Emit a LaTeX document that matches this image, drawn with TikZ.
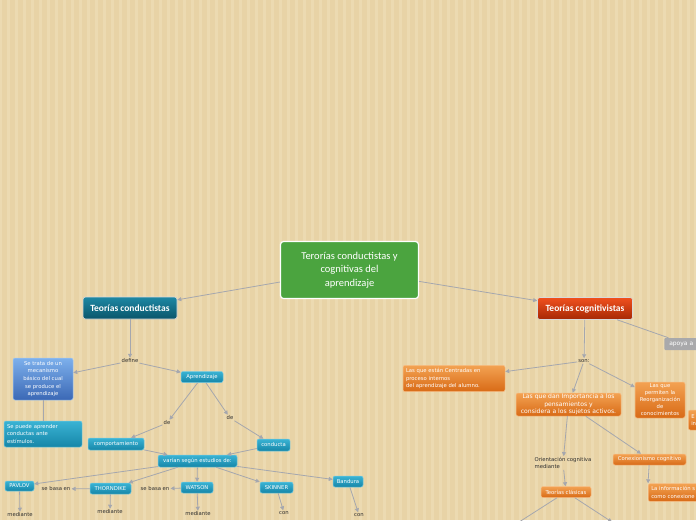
\documentclass[tikz,border=0pt]{standalone}
\usepackage{fontspec}
\setmainfont{DejaVu Sans}
\newfontfamily\titlefont{Carlito}
\usetikzlibrary{arrows.meta,positioning}
\definecolor{paper}{HTML}{E8D3A6}
\definecolor{plaid}{HTML}{F2E4C0}
\definecolor{linkgray}{HTML}{A5A7AE}
\definecolor{ink}{HTML}{2E2E2E}
\definecolor{leaf}{HTML}{4BA43F}
\definecolor{tealA}{HTML}{3AB3D4}
\definecolor{tealB}{HTML}{1686A8}
\definecolor{deepA}{HTML}{1E88A4}
\definecolor{deepB}{HTML}{0A556A}
\definecolor{blueA}{HTML}{7DB0EC}
\definecolor{blueB}{HTML}{3B68B5}
\definecolor{redA}{HTML}{F0501E}
\definecolor{redB}{HTML}{A62805}
\definecolor{orangeA}{HTML}{F3A252}
\definecolor{orangeB}{HTML}{D86A16}
\definecolor{stone}{HTML}{A9A9AB}
\tikzset{
 link/.style={draw=linkgray,line width=.8pt,-{Triangle[length=4pt,width=4pt]}},
 bare/.style={draw=linkgray,line width=.8pt},
 lbl/.style={font=\fontsize{5.3}{7}\selectfont,text=ink,inner sep=1pt},
 box/.style={rounded corners=2pt,text=white,font=\fontsize{5.3}{7.5}\selectfont,inner sep=1pt,align=center,line width=.5pt},
 tealbox/.style={box,top color=tealA,bottom color=tealB,draw=tealA!70!white},
 orangebox/.style={box,top color=orangeA,bottom color=orangeB,draw=orangeA!70!white},
 branch/.style={rounded corners=2.5pt,text=white,font=\titlefont\bfseries\fontsize{9.5}{11}\selectfont,line width=.6pt,draw=white!70!gray,minimum height=22pt}
}
\begin{document}
\begin{tikzpicture}[x=1pt,y=-1pt]
\useasboundingbox (0,0) rectangle (696,520);
\clip (0,0) rectangle (696,520);
\fill[paper] (0,0) rectangle (696,520);
\draw[plaid,opacity=.45,line width=3pt,step=8] (0,0) grid (696,520);
% centre
\node[draw=white,line width=1.2pt,fill=leaf,rounded corners=3pt,minimum width=138pt,minimum height=57pt,text=white,align=center,font=\titlefont\fontsize{10.5}{13.5}\selectfont] (root) at (349.5,270) {Terorías conductistas y\\cognitivas del\\aprendizaje};
\node[branch,top color=deepA,bottom color=deepB,minimum width=94pt] (conduct) at (130,308) {Teorías conductistas};
\node[branch,top color=redA,bottom color=redB,minimum width=95pt] (cognit) at (585,308.5) {Teorías cognitivistas};
\draw[link] (root) -- (conduct);\draw[link] (root) -- (cognit);
% conductistas
\node[lbl] (define) at (130,361) {define};
\node[box,top color=blueA,bottom color=blueB,draw=blueA!70!white,minimum width=60pt,minimum height=42pt,font=\fontsize{5.3}{7.6}\selectfont] (mech) at (43,379) {Se trata de un\\mecanismo\\básico del cual\\se produce el\\aprendizaje};
\node[tealbox,align=left,text width=72pt,minimum height=26pt,inner sep=3pt] (stimuli) at (43,434) {Se puede aprender\\conductas ante\\estímulos.};
\node[tealbox,minimum width=42pt,minimum height=11pt] (aprend) at (202,377) {Aprendizaje};
\node[lbl] (de1) at (167,423) {de};\node[lbl] (de2) at (230,418) {de};
\node[tealbox,minimum width=56pt,minimum height=12pt] (comport) at (116,444) {comportamiento};
\node[tealbox,minimum width=33pt,minimum height=12pt] (conducta) at (273.5,445) {conducta};
\node[tealbox,minimum width=79pt,minimum height=12pt] (varian) at (197.5,461) {varían según estudios de:};
\node[tealbox,minimum width=29pt,minimum height=10pt] (pavlov) at (19.5,486) {PAVLOV};
\node[tealbox,minimum width=41pt,minimum height=11pt] (thorn) at (110.5,488.5) {THORNDIKE};
\node[tealbox,minimum width=32pt,minimum height=11pt] (watson) at (197,487.5) {WATSON};
\node[tealbox,minimum width=33pt,minimum height=11pt] (skinner) at (276.5,487.5) {SKINNER};
\node[tealbox,minimum width=30pt,minimum height=11pt] (bandura) at (348,481.5) {Bandura};
\node[lbl] (basa1) at (56,489) {se basa en};\node[lbl] (basa2) at (155,489) {se basa en};
\node[lbl] (med1) at (20,515) {mediante};\node[lbl] (med2) at (110,512) {mediante};
\node[lbl] (med3) at (198,514) {mediante};
\node[lbl] (con1) at (284,513) {con};\node[lbl] (con2) at (359,515) {con};
\draw[link] (conduct) -- (define);\draw[link] (define) -- (mech);\draw[link] (define) -- (aprend);
\draw[bare] (mech) -- (stimuli);
\draw[link] (aprend) -- (de1);\draw[link] (aprend) -- (de2);
\draw[link] (de1) -- (comport);\draw[link] (de2) -- (conducta);
\draw[link] (comport) -- (varian);\draw[link] (conducta) -- (varian);
\draw[link] (varian) -- (pavlov);\draw[link] (varian) -- (thorn);\draw[link] (varian) -- (watson);
\draw[link] (varian) -- (skinner);\draw[link] (varian) -- (bandura);
\draw[link] (thorn) -- (basa1);\draw[link] (watson) -- (basa2);
\draw[link] (pavlov) -- (med1);\draw[link] (thorn) -- (med2);\draw[link] (watson) -- (med3);
\draw[link] (skinner) -- (con1);\draw[link] (bandura) -- (con2);
% cognitivistas
\node[lbl] (son) at (584,361) {son:};
\node[box,fill=stone,anchor=west,align=left,text width=40pt,minimum height=12pt,inner sep=2pt,rounded corners=1pt,font=\fontsize{6}{7}\selectfont] (apoya) at (664,344) {\hspace{3pt}apoya a};
\node[orangebox,align=left,text width=96pt,minimum height=23pt,inner sep=3pt] (estan) at (454,378.5) {Las que están Centradas en\\proceso internos\\del aprendizaje del alumno.};
\node[orangebox,minimum width=105pt,minimum height=23pt,font=\fontsize{6.1}{7.3}\selectfont] (dan) at (568.5,404.5) {Las que dan Importancia a los\\pensamientos y\\considera a los sujetos activos.};
\node[orangebox,minimum width=50pt,minimum height=36pt,font=\fontsize{5.3}{7}\selectfont] (reorg) at (660,400) {Las que\\permiten la\\Reorganización\\de\\conocimientos};
\node[orangebox,anchor=west,align=left,text width=30pt,minimum height=20pt,inner sep=3pt] (extra) at (688,420) {E\\in};
\node[lbl,align=left] (orient) at (563,463) {Orientación cognitiva\\mediante};
\node[orangebox,minimum width=73pt,minimum height=11pt] (conex) at (649.5,459.5) {Conexionismo cognitivo};
\node[orangebox,minimum width=50pt,minimum height=11pt] (clasic) at (566,492) {Teorías clásicas};
\node[orangebox,anchor=west,align=left,text width=70pt,minimum height=17pt,inner sep=3pt] (info) at (648,492.5) {La información s\\como conexione};
\coordinate (down1) at (516,524);\coordinate (down2) at (612,522);
\draw[link] (cognit) -- (son);\draw[bare] (cognit) -- (apoya);
\draw[link] (son) -- (estan);\draw[link] (son) -- (dan);\draw[link] (son) -- (reorg);
\draw[link] (dan) -- (orient);\draw[link] (dan) -- (conex);
\draw[link] (orient) -- (clasic);\draw[link] (conex) -- (info.north west);
\draw[bare] (clasic) -- (down1);\draw[link] (clasic) -- (down2);
\end{tikzpicture}
\end{document}
